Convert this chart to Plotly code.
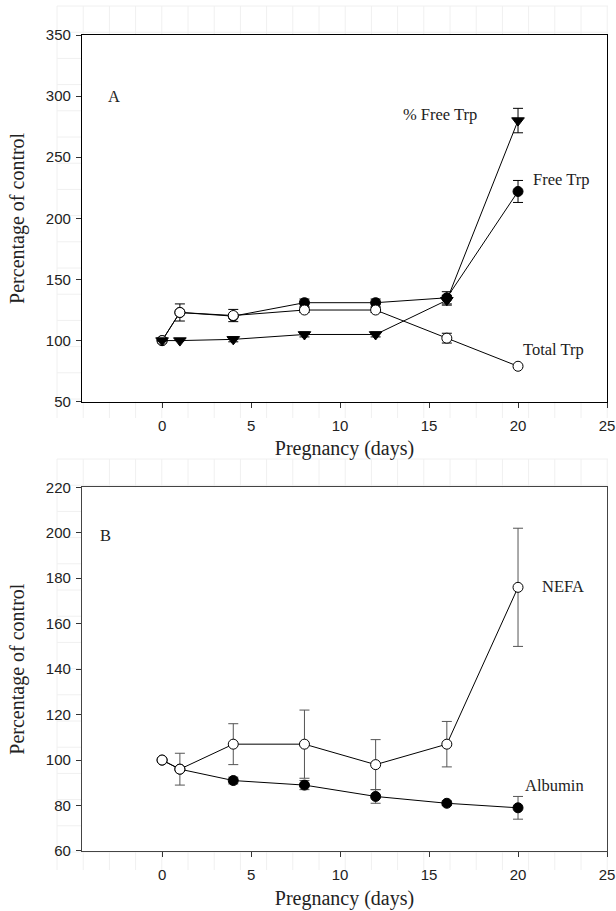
import plotly.graph_objects as go

# ---------------- data ----------------
days = [0, 1, 4, 8, 12, 16, 20]

# Panel A
free_trp = [100, 123, 120, 131, 131, 135, 222]
free_trp_err = [0, 0, 0, 3, 3, 5, 9]
total_trp = [100, 123, 120.5, 125, 125, 102, 79]
total_trp_err = [0, 7, 5, 2, 2, 4, 1]
pct_free_trp = [100, 100, 101, 105, 105, 133, 280]
pct_free_trp_err = [0, 0, 2, 2, 2, 4, 10]

# Panel B
albumin = [100, 96, 91, 89, 84, 81, 79]
albumin_err = [0, 1, 1.5, 2, 3, 1, 5]
nefa = [100, 96, 107, 107, 98, 107, 176]
nefa_err = [0, 7, 9, 15, 11, 10, 26]

x_ticks = [0, 5, 10, 15, 20, 25]
yA_ticks = [50, 100, 150, 200, 250, 300, 350]
yB_ticks = [60, 80, 100, 120, 140, 160, 180, 200, 220]

SERIF = "Liberation Serif, Times New Roman, serif"
SANS = "Liberation Sans, Arial, sans-serif"

W, H = 616, 911
ML, MR, MT, MB = 82, 9, 35, 60
DOM_A = [0.5506, 1]
DOM_B = [0, 0.4457]

fig = go.Figure()


def add_series(x, y, err, xa, ya, symbol, fill, ecolor, size=10):
    fig.add_trace(go.Scatter(
        x=x, y=y, xaxis=xa, yaxis=ya, mode="lines+markers",
        line=dict(color="black", width=1),
        marker=dict(symbol=symbol, size=size, color=fill,
                    line=dict(color="black", width=1)),
        error_y=dict(type="data", array=err, visible=True,
                     color=ecolor, thickness=1, width=5),
        showlegend=False, hoverinfo="x+y"))


# Panel A traces
add_series(days, free_trp, free_trp_err, "x", "y", "circle", "black", "black", 10)
add_series(days, total_trp, total_trp_err, "x", "y", "circle", "white", "black", 10)
add_series(days, pct_free_trp, pct_free_trp_err, "x", "y", "triangle-down", "black", "black", 11)

# Panel B traces
add_series(days, albumin, albumin_err, "x2", "y2", "circle", "black", "#555555", 10)
add_series(days, nefa, nefa_err, "x2", "y2", "circle", "white", "#555555", 10)

axis_common = dict(
    showgrid=False, zeroline=False, ticks="outside", ticklen=5,
    tickwidth=1, tickcolor="#333333", showline=True, linewidth=1.3,
    automargin=False,
    tickfont=dict(family=SANS, size=15, color="#222222"),
)

title_font = dict(family=SERIF, size=20, color="#222222")

xcommon = dict(axis_common, range=[-4.5, 25], tickvals=x_ticks,
               ticklabelstandoff=5,
               title=dict(text="Pregnancy (days)", font=title_font,
                          standoff=8))

ycommon = dict(axis_common, ticklabelstandoff=2,
               title=dict(text="Percentage of control", font=title_font,
                          standoff=15))

fig.update_layout(
    template="none",
    width=W, height=H,
    margin=dict(l=ML, r=MR, t=MT, b=MB, autoexpand=False),
    paper_bgcolor="white", plot_bgcolor="white",
    xaxis=dict(xcommon, domain=[0, 1], anchor="y", linecolor="black",
               mirror=True),
    yaxis=dict(ycommon, domain=DOM_A, anchor="x", range=[50, 350],
               tickvals=yA_ticks, linecolor="black", mirror=True),
    xaxis2=dict(xcommon, domain=[0, 1], anchor="y2", linecolor="#444444",
                mirror=True),
    yaxis2=dict(ycommon, domain=DOM_B, anchor="x2", range=[60, 220],
                tickvals=yB_ticks, linecolor="#444444", mirror=True),
)

# faint background grid visible only around the panels (decoration)
pw, ph = W - ML - MR, H - MT - MB


def px_x(p):
    return (p - ML) / pw


def px_y(p):
    return (H - MB - p) / ph


def seg(x0, y0, x1, y1):
    fig.add_shape(type="line", xref="paper", yref="paper", layer="below",
                  x0=px_x(x0), x1=px_x(x1), y0=px_y(y0), y1=px_y(y1),
                  line=dict(color="#f0f0f0", width=1))


step = 26.2
gleft, gright = 57.0, 608.0
for (top, bottom), dom in [((6, 418), DOM_A), ((459, 870), DOM_B)]:
    p_top = MT + (1 - dom[1]) * ph
    p_bot = MT + (1 - dom[0]) * ph
    gx = gleft
    while gx <= gright + 1:
        if gx < ML - 1:
            seg(gx, top, gx, bottom)
        else:
            seg(gx, top, gx, p_top)
            seg(gx, p_bot, gx, bottom)
        gx += step
    gy = float(top)
    while gy <= bottom:
        if p_top - 1 <= gy <= p_bot + 1:
            seg(gleft, gy, ML, gy)
        else:
            seg(gleft, gy, gright, gy)
        gy += step

ann_font = dict(family=SERIF, size=16.5, color="#222222")
annotations = [
    ("A", -2.7, 300, "x", "y"),
    ("% Free Trp", 15.6, 285, "x", "y"),
    ("Free Trp", 22.4, 231.8, "x", "y"),
    ("Total Trp", 22.0, 92.5, "x", "y"),
    ("B", -3.2, 198.7, "x2", "y2"),
    ("NEFA", 22.55, 176.3, "x2", "y2"),
    ("Albumin", 22.07, 88.7, "x2", "y2"),
]
for text, ax, ay, xr, yr in annotations:
    fig.add_annotation(text=text, x=ax, y=ay, xref=xr, yref=yr,
                       showarrow=False, font=ann_font,
                       xanchor="center", yanchor="middle")

fig.write_html(
    "out.html",
    config={"displayModeBar": False},
    post_script="document.body.style.margin='0';"
                "document.body.style.overflow='hidden';",
)
